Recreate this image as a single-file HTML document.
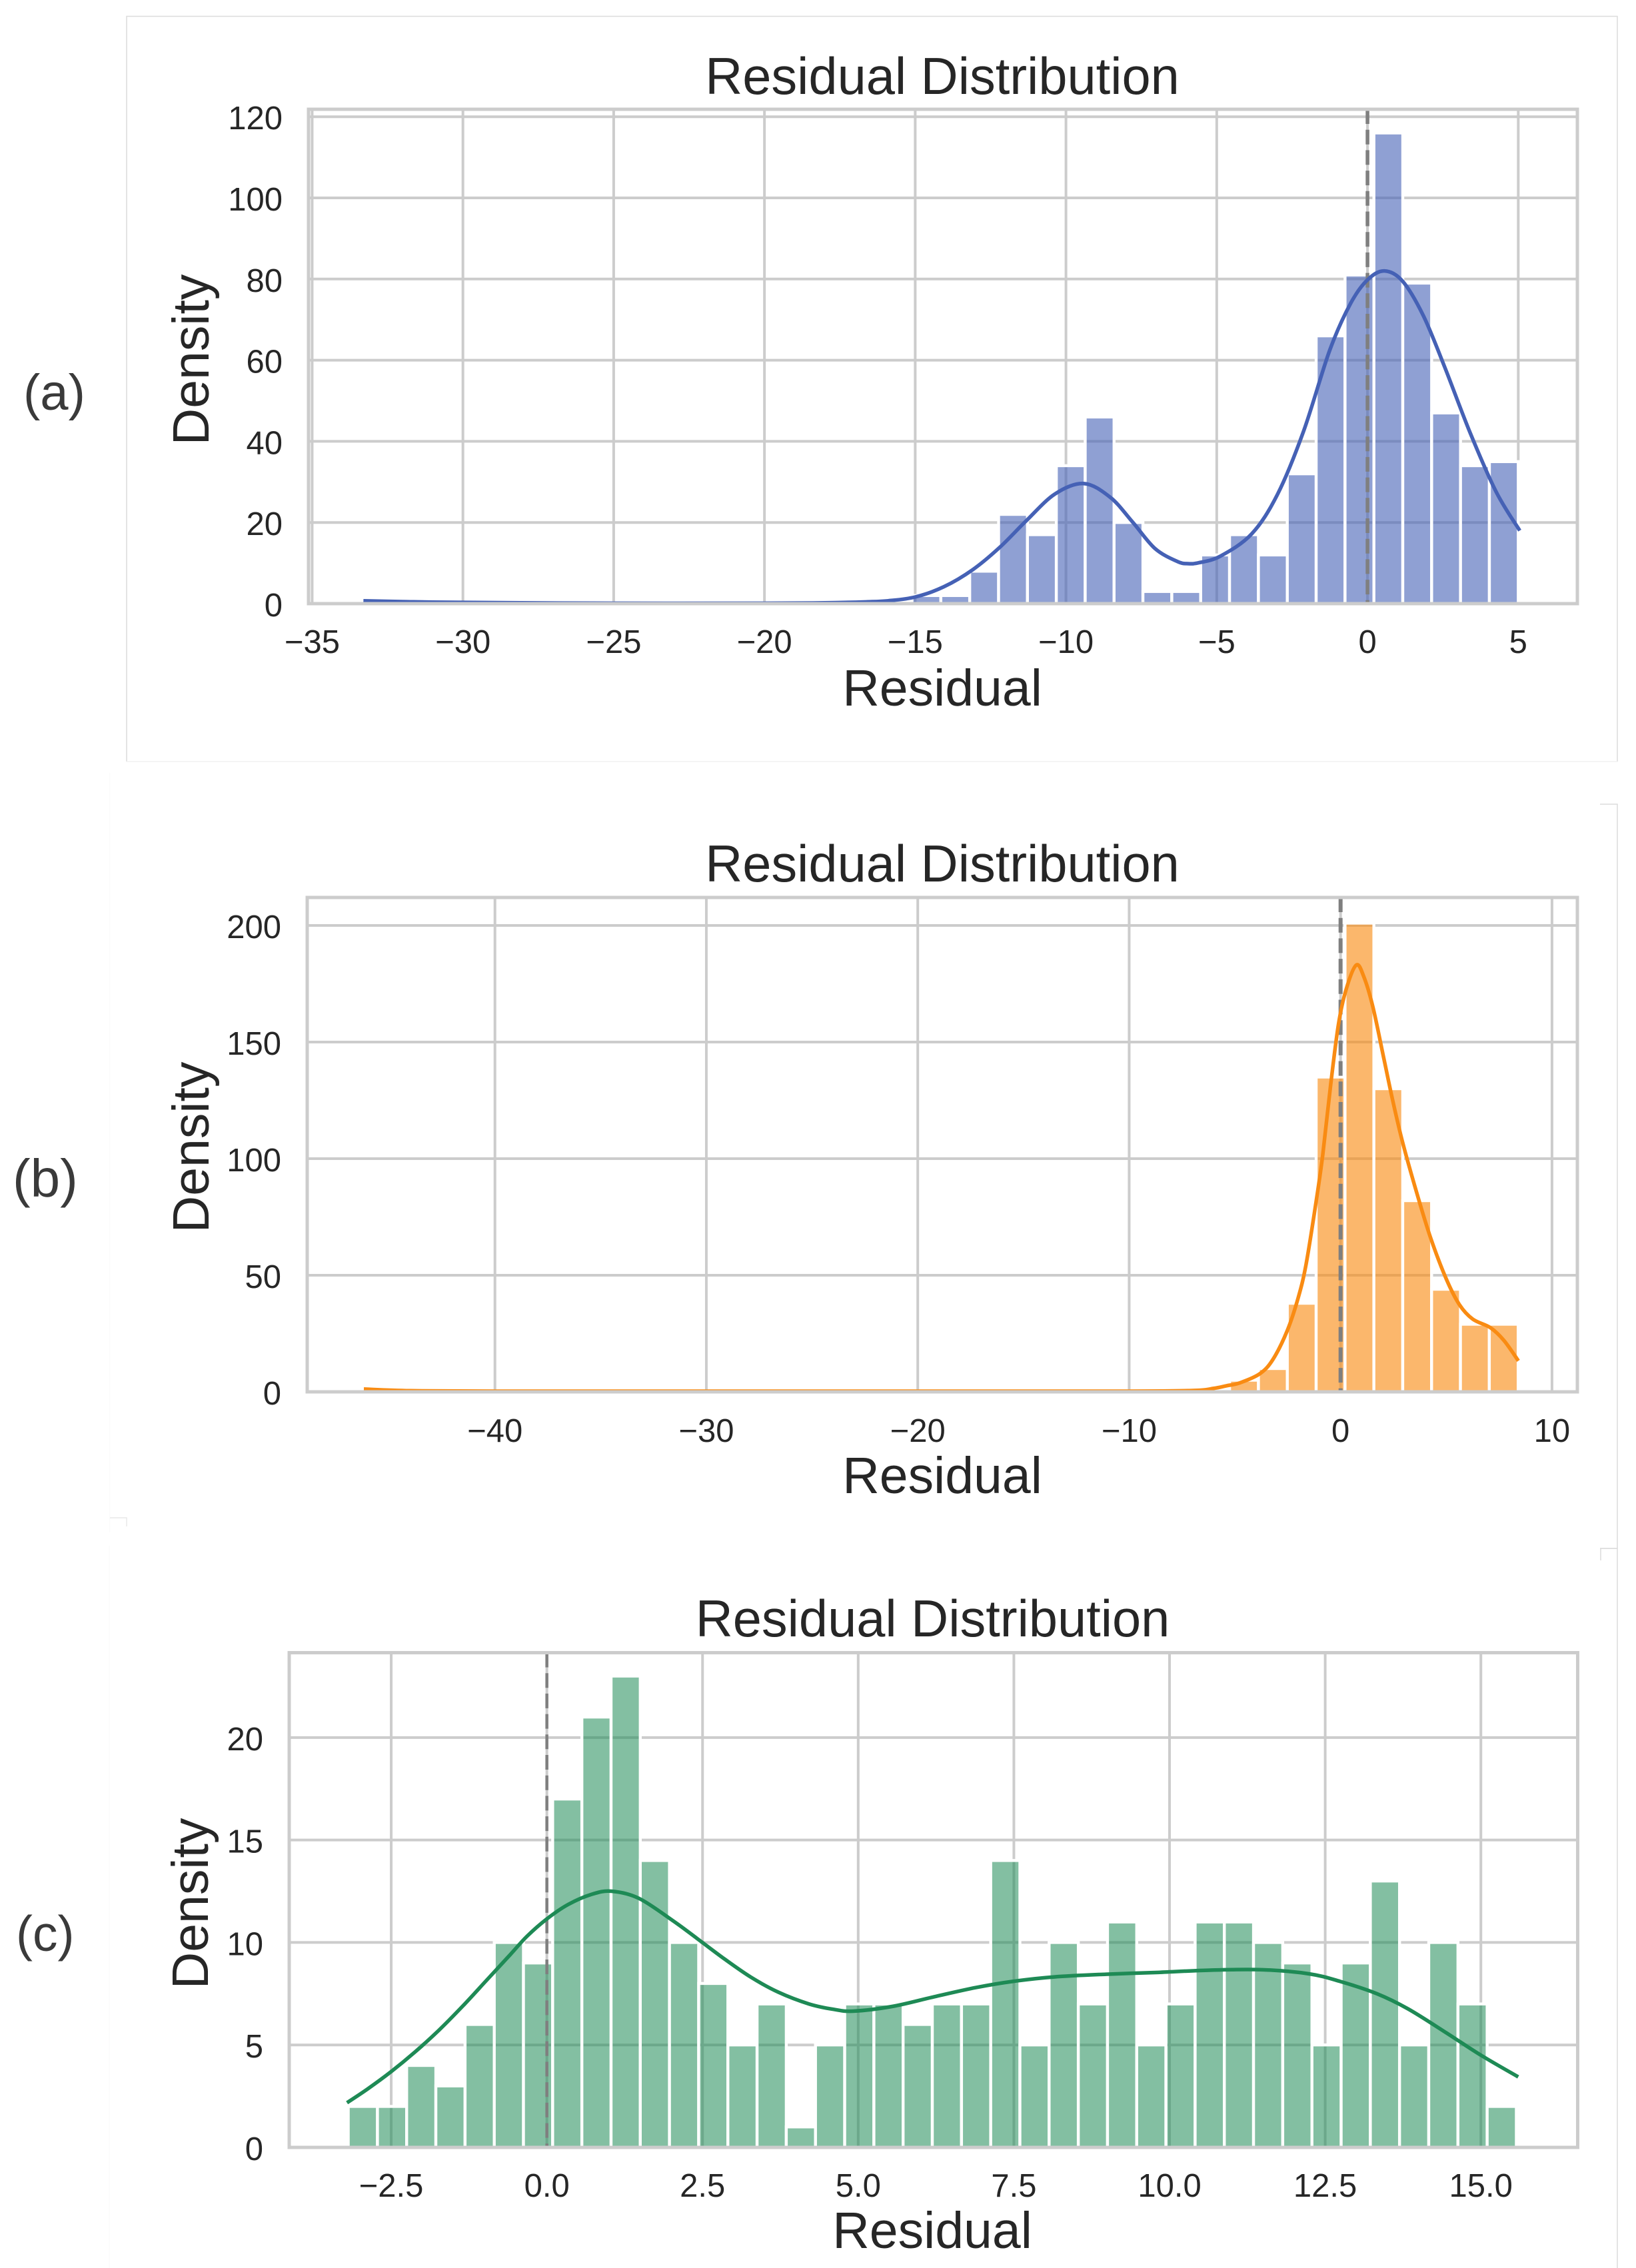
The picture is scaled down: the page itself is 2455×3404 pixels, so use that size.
<!DOCTYPE html>
<html lang="en">
<head>
<meta charset="utf-8">
<title>Residual Distribution</title>
<style>
html,body{margin:0;padding:0;background:#fff;}
#figure{display:block;width:2455px;height:3404px;}
text{font-family:"Liberation Sans",Arial,sans-serif;fill:#262626;}
.title{font-size:77.6px;text-anchor:middle;}
.axis-title{font-size:77px;text-anchor:middle;}
.tick{font-size:49px;}
.panel-tag{font-size:76px;fill:#3a3a3a;}
</style>
</head>
<body>
<svg id="figure" xmlns="http://www.w3.org/2000/svg" width="2455" height="3404" viewBox="0 0 2455 3404">
  <rect x="0" y="0" width="2455" height="3404" fill="#ffffff"/>

  <g fill="none">
    <path d="M190 1143V24.5H2427V1143" stroke="#dcdcdc" stroke-width="1.5"/>
    <path d="M190 1143H2427" stroke="#f0f0f0" stroke-width="1.5"/>
    <path d="M2401 1207H2427V2324H2401" stroke="#dcdcdc" stroke-width="1.5"/>
    <path d="M164.5 1160V2300" stroke="#fbfbfb" stroke-width="1.5"/>
    <path d="M165 2278H190V2291" stroke="#e8e8e8" stroke-width="1.5"/>
    <path d="M2402 2342V2324H2427V3404" stroke="#dcdcdc" stroke-width="1.5"/>
    <path d="M164 2320V3404" stroke="#fbfbfb" stroke-width="1.5"/>
  </g>

  <text class="panel-tag" x="35" y="615">(a)</text>
  <text class="panel-tag" x="19" y="1796" style="font-size:80px">(b)</text>
  <text class="panel-tag" x="24" y="2928" style="font-size:75px">(c)</text>

  <text class="title" x="1414" y="141">Residual Distribution</text>
  <text class="axis-title" x="1414" y="1059">Residual</text>
  <text class="axis-title" transform="translate(313 540) rotate(-90)">Density</text>

  <text class="title" x="1414" y="1323">Residual Distribution</text>
  <text class="axis-title" x="1414" y="2241">Residual</text>
  <text class="axis-title" transform="translate(313 1722) rotate(-90)">Density</text>

  <text class="title" x="1399.5" y="2456">Residual Distribution</text>
  <text class="axis-title" x="1399" y="3374">Residual</text>
  <text class="axis-title" transform="translate(312 2857) rotate(-90)">Density</text>

  <g id="chart-a"></g>
  <g id="chart-b"></g>
  <g id="chart-c"></g>
</svg>

<script>
/* ---------- Chart (a) data ---------- */
const xTicksA = [-35, -30, -25, -20, -15, -10, -5, 0, 5];
const xTickLabelsA = ['−35', '−30', '−25', '−20', '−15', '−10', '−5', '0', '5'];
const yTicksA = [0, 20, 40, 60, 80, 100, 120];
const yTickLabelsA = ['0', '20', '40', '60', '80', '100', '120'];
const binStartA = -33.3;
const binWidthA = 0.9575;
const countsA = [1, 0, 0, 0, 0, 0, 0, 0, 0, 0, 0, 0, 0, 0, 0, 0, 0, 0, 0, 2,
                 2, 8, 22, 17, 34, 46, 20, 3, 3, 12, 17, 12, 32, 66, 81, 116, 79, 47, 34, 35];
const kdeXA = [-33.3, -32, -30, -25, -20, -18, -16.63, -15.89, -15, -14.05, -13.09, -12.2, -11.32, -10.37, -9.41, -8.53, -7.79, -7.05, -6.31, -5.95, -5.58, -4.88, -3.84, -2.98, -2.12, -1.25, -0.56, 0, 0.56, 1.16, 1.85, 2.55, 3.41, 4.27, 5.05];
const kdeYA = [0.7, 0.5, 0.3, 0.1, 0.1, 0.2, 0.44, 0.71, 1.64, 4.16, 8.38, 13.85, 20.4, 27, 29.6, 26.2, 20.1, 13.6, 10.4, 9.85, 10.1, 11.7, 17.2, 27, 42.5, 62.5, 74, 79.8, 82, 79.5, 71, 58.5, 42, 27.5, 18];

/* ---------- Chart (b) data ---------- */
const xTicksB = [-40, -30, -20, -10, 0, 10];
const xTickLabelsB = ['−40', '−30', '−20', '−10', '0', '10'];
const yTicksB = [0, 50, 100, 150, 200];
const yTickLabelsB = ['0', '50', '100', '150', '200'];
const binStartB = -46.2;
const binWidthB = 1.365;
const countsB = [1, 0, 0, 0, 0, 0, 0, 0, 0, 0, 0, 0, 0, 0, 0, 0, 0, 0, 0, 0,
                 0, 0, 0, 0, 0, 0, 0, 0, 0, 0, 5, 10, 38, 135, 201, 130, 82, 44, 29, 29];
const kdeXB = [-46.2, -44, -40, -30, -20, -10, -6.9, -6, -5.4, -4.78, -3.83, -3.2, -2.52, -2, -1.63, -1.15, -0.84, -0.47, -0.1, 0.26, 0.74, 1.1, 1.53, 2.05, 2.47, 2.94, 3.63, 4.26, 4.99, 5.62, 6.25, 7.09, 7.73, 8.41];
const kdeYB = [1.2, 0.5, 0.3, 0.3, 0.3, 0.3, 0.6, 1.5, 2.6, 3.8, 7.7, 13.9, 26.3, 40.5, 54.8, 82, 101.9, 131.6, 157.6, 172.5, 183, 178, 165, 142.8, 124.8, 106.8, 84.5, 66, 48.6, 37.4, 31.2, 27.5, 22, 13.3];

/* ---------- Chart (c) data ---------- */
const xTicksC = [-2.5, 0, 2.5, 5, 7.5, 10, 12.5, 15];
const xTickLabelsC = ['−2.5', '0.0', '2.5', '5.0', '7.5', '10.0', '12.5', '15.0'];
const yTicksC = [0, 5, 10, 15, 20];
const yTickLabelsC = ['0', '5', '10', '15', '20'];
const binStartC = -3.19;
const binWidthC = 0.469;
const countsC = [2, 2, 4, 3, 6, 10, 9, 17, 21, 23, 14, 10, 8, 5, 7, 1, 5, 7, 7, 6,
                 7, 7, 14, 5, 10, 7, 11, 5, 7, 11, 11, 10, 9, 5, 9, 13, 5, 10, 7, 2];
const kdeXC = [-3.21, -2.88, -2.5, -2.12, -1.74, -1.35, -0.97, -0.59, -0.32, 0, 0.34, 0.72, 1.04, 1.48, 2.03, 2.41, 2.85, 3.28, 3.72, 4.21, 4.6, 4.92, 5.55, 6.22, 6.89, 7.48, 8.15, 8.98, 9.82, 10.65, 11.49, 12.24, 12.74, 13.33, 13.83, 14.42, 15, 15.6];
const kdeYC = [2.18, 2.85, 3.7, 4.65, 5.7, 6.9, 8.15, 9.4, 10.3, 11.15, 11.85, 12.35, 12.5, 12.15, 11.05, 10.2, 9.2, 8.3, 7.57, 7.0, 6.74, 6.65, 6.88, 7.35, 7.8, 8.1, 8.32, 8.45, 8.54, 8.65, 8.67, 8.47, 8.1, 7.5, 6.76, 5.64, 4.5, 3.44];

const SVG_NS = 'http://www.w3.org/2000/svg';
const GRID = '#cccccc';

function make(tag, parent) {
  const el = document.createElementNS(SVG_NS, tag);
  parent.appendChild(el);
  return el;
}

function smoothPath(px, py) {
  let d = 'M' + px[0].toFixed(2) + ' ' + py[0].toFixed(2);
  for (let i = 0; i < px.length - 1; i++) {
    const i0 = Math.max(i - 1, 0);
    const i3 = Math.min(i + 2, px.length - 1);
    const c1x = px[i] + (px[i + 1] - px[i0]) / 6;
    const c1y = py[i] + (py[i + 1] - py[i0]) / 6;
    const c2x = px[i + 1] - (px[i3] - px[i]) / 6;
    const c2y = py[i + 1] - (py[i3] - py[i]) / 6;
    d += 'C' + c1x.toFixed(2) + ' ' + c1y.toFixed(2) + ' ' + c2x.toFixed(2) + ' ' + c2y.toFixed(2) + ' ' + px[i + 1].toFixed(2) + ' ' + py[i + 1].toFixed(2);
  }
  return d;
}

function drawChart(cfg) {
  const root = document.getElementById(cfg.id);
  const box = cfg.box;
  const x = v => box.left + (v - cfg.xDomain[0]) / (cfg.xDomain[1] - cfg.xDomain[0]) * (box.right - box.left);
  const y = v => box.bottom - (v - cfg.yDomain[0]) / (cfg.yDomain[1] - cfg.yDomain[0]) * (box.bottom - box.top);

  cfg.xTicks.forEach((t, i) => {
    const line = make('line', root);
    
    
    line.setAttribute('x1', x(t));
    line.setAttribute('x2', x(t));
    line.setAttribute('y1', box.top);
    line.setAttribute('y2', box.bottom);
    line.setAttribute('stroke', GRID);
    line.setAttribute('stroke-width', 4);

    const label = make('text', root);
    
    
    label.setAttribute('class', 'tick');
    label.setAttribute('text-anchor', 'middle');
    label.setAttribute('x', x(t));
    label.setAttribute('y', cfg.xLabelBaseline);
    label.textContent = cfg.xTickLabels[i];
  });

  cfg.yTicks.forEach((t, i) => {
    const line = make('line', root);
    
    
    line.setAttribute('x1', box.left);
    line.setAttribute('x2', box.right);
    line.setAttribute('y1', y(t));
    line.setAttribute('y2', y(t));
    line.setAttribute('stroke', GRID);
    line.setAttribute('stroke-width', 4);

    const label = make('text', root);
    
    
    label.setAttribute('class', 'tick');
    label.setAttribute('text-anchor', 'end');
    label.setAttribute('x', cfg.yLabelRight);
    label.setAttribute('y', y(t) + 19);
    label.textContent = cfg.yTickLabels[i];
  });

  cfg.counts.forEach((c, i) => {
    if (c <= 0) return;
    const x0 = x(cfg.binStart + i * cfg.binWidth);
    const x1 = x(cfg.binStart + (i + 1) * cfg.binWidth);
    const bar = make('rect', root);
    
    
    bar.setAttribute('x', x0);
    bar.setAttribute('y', y(c));
    bar.setAttribute('width', x1 - x0);
    bar.setAttribute('height', y(0) - y(c));
    bar.setAttribute('fill', cfg.barFill);
    bar.setAttribute('fill-opacity', cfg.barOpacity);
    bar.setAttribute('stroke', '#ffffff');
    bar.setAttribute('stroke-width', 4.4);
  });

  const zero = make('line', root);
  
  
  zero.setAttribute('x1', x(0));
  zero.setAttribute('x2', x(0));
  zero.setAttribute('y1', box.top);
  zero.setAttribute('y2', box.bottom);
  zero.setAttribute('stroke', '#7f7f7f');
  zero.setAttribute('stroke-width', cfg.zeroWidth);
  zero.setAttribute('stroke-dasharray', '22 8.7');

  const kde = make('path', root);
  
  
  kde.setAttribute('d', smoothPath(cfg.kdeX.map(x), cfg.kdeY.map(y)));
  kde.setAttribute('fill', 'none');
  kde.setAttribute('stroke', cfg.lineColor);
  kde.setAttribute('stroke-width', 5.5);
  kde.setAttribute('stroke-linejoin', 'round');

  const spines = make('rect', root);
  
  
  spines.setAttribute('x', box.left);
  spines.setAttribute('y', box.top);
  spines.setAttribute('width', box.right - box.left);
  spines.setAttribute('height', box.bottom - box.top);
  spines.setAttribute('fill', 'none');
  spines.setAttribute('stroke', GRID);
  spines.setAttribute('stroke-width', 5);
}

drawChart({
  id: 'chart-a',
  box: {left: 463, right: 2367, top: 164, bottom: 906},
  xDomain: [-35.12, 6.96],
  yDomain: [0, 121.84],
  xTicks: xTicksA, xTickLabels: xTickLabelsA,
  yTicks: yTicksA, yTickLabels: yTickLabelsA,
  xLabelBaseline: 980, yLabelRight: 424,
  binStart: binStartA, binWidth: binWidthA, counts: countsA,
  kdeX: kdeXA, kdeY: kdeYA,
  barFill: '#4561b5', barOpacity: 0.6, lineColor: '#4561b5', zeroWidth: 5.5
});

drawChart({
  id: 'chart-b',
  box: {left: 461, right: 2367, top: 1347, bottom: 2089},
  xDomain: [-48.88, 11.2],
  yDomain: [0, 212],
  xTicks: xTicksB, xTickLabels: xTickLabelsB,
  yTicks: yTicksB, yTickLabels: yTickLabelsB,
  xLabelBaseline: 2164, yLabelRight: 422,
  binStart: binStartB, binWidth: binWidthB, counts: countsB,
  kdeX: kdeXB, kdeY: kdeYB,
  barFill: '#f98b12', barOpacity: 0.62, lineColor: '#f98b12', zeroWidth: 6
});

drawChart({
  id: 'chart-c',
  box: {left: 434, right: 2367.5, top: 2480.5, bottom: 3223},
  xDomain: [-4.138, 16.555],
  yDomain: [0, 24.14],
  xTicks: xTicksC, xTickLabels: xTickLabelsC,
  yTicks: yTicksC, yTickLabels: yTickLabelsC,
  xLabelBaseline: 3297, yLabelRight: 395,
  binStart: binStartC, binWidth: binWidthC, counts: countsC,
  kdeX: kdeXC, kdeY: kdeYC,
  barFill: '#1e8a55', barOpacity: 0.55, lineColor: '#1e8a55', zeroWidth: 4.5
});
</script>
</body>
</html>
